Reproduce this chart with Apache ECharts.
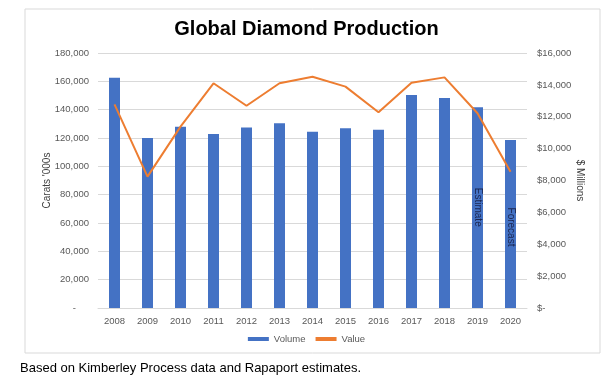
<!DOCTYPE html>
<html><head><meta charset="utf-8">
<script src="https://cdn.jsdelivr.net/npm/echarts@6/dist/echarts.min.js"></script>
<style>html,body{margin:0;padding:0;background:#fff;}#c{width:613px;height:388px;}</style>
</head><body><div id="c"></div>
<script>
const years = ['2008','2009','2010','2011','2012','2013','2014','2015','2016','2017','2018','2019','2020'];
const volume = [162500,120000,128000,122800,127500,130400,124400,126800,125900,150400,148200,141700,118600];
const value = [12780,8240,11380,14100,12690,14100,14510,13890,12280,14140,14470,12220,8550];
const barNotes = {'2019':'Estimate','2020':'Forecast'};
const noteOffsets = {'2019':100,'2020':87};

const FF = 'Liberation Sans, Arial, sans-serif';
const chart = echarts.init(document.getElementById('c'), null, {renderer:'canvas'});
const fmtNum = v => v === 0 ? '-     ' : v.toLocaleString('en-US');
const fmtUsd = v => v === 0 ? '$-' : '$' + v.toLocaleString('en-US');
const volData = volume.map((v,i) => {
  const y = years[i];
  if (barNotes[y]) {
    return {value:v, label:{show:true, formatter:barNotes[y], rotate:-90,
      position:['50%', noteOffsets[y]], align:'center', verticalAlign:'middle',
      color:'#1a2550', fontSize:10, fontFamily:FF}};
  }
  return v;
});
chart.setOption({
  backgroundColor:'#fff',
  animation:false,
  graphic:[{type:'rect', shape:{x:25,y:9,width:575,height:344}, style:{fill:'none', stroke:'#d9d9d9', lineWidth:1}, silent:true},
           {type:'text', left:20, top:362, style:{text:'Based on Kimberley Process data and Rapaport estimates.', fill:'#000', font:'13px "Liberation Sans", Arial, sans-serif'}}],
  title:{text:'Global Diamond Production', left:'center', top:14,
    textStyle:{fontSize:20, fontWeight:'bold', color:'#000', fontFamily:FF}},
  grid:{left:98, right:86, top:53, bottom:80},
  legend:{bottom:39, left:'center', itemWidth:21, itemHeight:4, itemGap:10,
    textStyle:{fontSize:9.5, color:'#595959', fontFamily:FF},
    data:[{name:'Volume', icon:'rect'},{name:'Value', icon:'rect'}]},
  xAxis:{type:'category', data:years,
    axisLine:{lineStyle:{color:'#d9d9d9'}}, axisTick:{show:false},
    axisLabel:{color:'#595959', fontSize:9.5, margin:8, fontFamily:FF}},
  yAxis:[
    {type:'value', min:0, max:180000, interval:20000, name:"Carats '000s", nameLocation:'middle', nameGap:46, nameMoveOverlap:false,
     nameTextStyle:{color:'#404040', fontSize:10, fontFamily:FF},
     axisLabel:{formatter:fmtNum, color:'#595959', fontSize:9.5, margin:9, fontFamily:FF},
     splitLine:{lineStyle:{color:'#d9d9d9'}}, axisLine:{show:false}, axisTick:{show:false}},
    {type:'value', min:0, max:16000, interval:2000, name:'$ Millions', nameLocation:'middle', nameGap:48, nameRotate:-90, nameMoveOverlap:false,
     nameTextStyle:{color:'#404040', fontSize:10, fontFamily:FF},
     axisLabel:{formatter:fmtUsd, color:'#595959', fontSize:9.5, margin:10, align:'left', fontFamily:FF},
     splitLine:{show:false}, axisLine:{show:false}, axisTick:{show:false}}
  ],
  series:[
    {name:'Volume', type:'bar', data:volData, barWidth:11, itemStyle:{color:'#4472C4'}, yAxisIndex:0},
    {name:'Value', type:'line', data:value, yAxisIndex:1, symbol:'none', lineStyle:{color:'#ED7D31', width:2}, itemStyle:{color:'#ED7D31'}}
  ]
});
</script></body></html>
